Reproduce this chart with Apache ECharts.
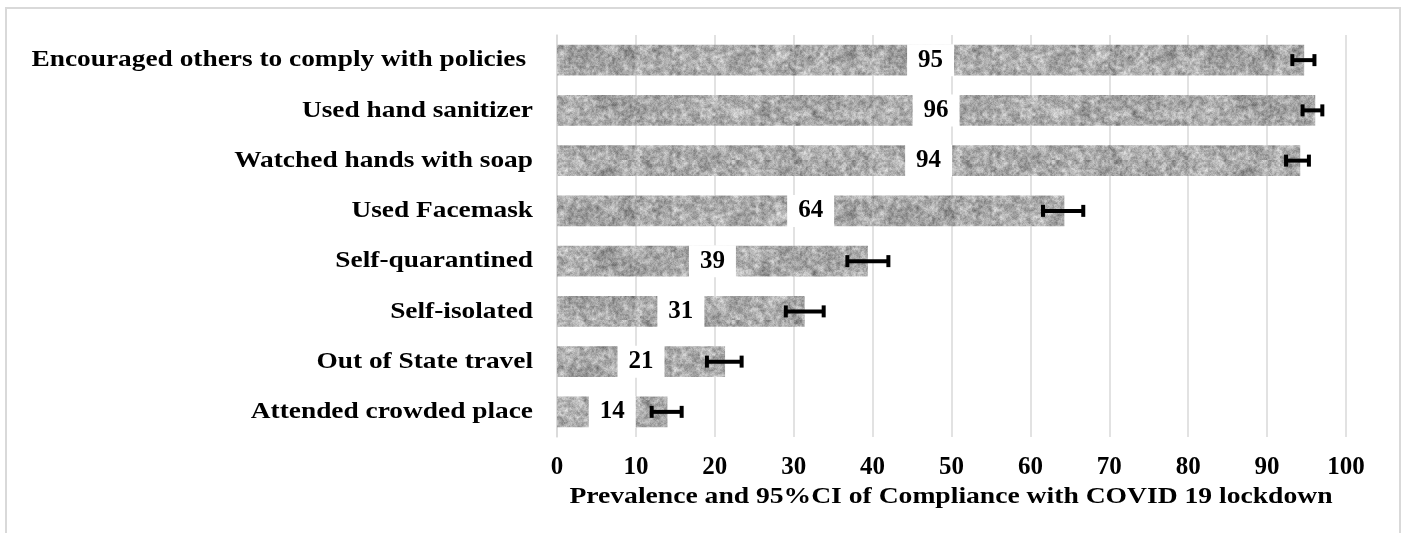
<!DOCTYPE html>
<html>
<head>
<meta charset="utf-8">
<script src="https://cdn.jsdelivr.net/npm/echarts@6/dist/echarts.min.js"></script>
<style>
html,body{margin:0;padding:0;background:#fff;}
#chart{width:1405px;height:533px;}
</style>
</head>
<body>
<div id="chart"></div>
<script>
const categories = [
  'Encouraged others to comply with policies ',
  'Used hand sanitizer',
  'Watched hands with soap',
  'Used Facemask',
  'Self-quarantined',
  'Self-isolated',
  'Out of State travel',
  'Attended crowded place'
];
const values = [94.7, 96.1, 94.2, 64.3, 39.4, 31.4, 21.3, 14.0];
const ciLow  = [93.2, 94.5, 92.4, 61.6, 36.8, 29.0, 19.0, 12.0];
const ciHigh = [96.0, 97.0, 95.3, 66.7, 42.0, 33.8, 23.4, 15.8];
const xTicks = [0, 10, 20, 30, 40, 50, 60, 70, 80, 90, 100];
const axisTitle = 'Prevalence and 95%CI of Compliance with COVID 19 lockdown';

// decorative granite-like texture (deterministic)
function makeTexture() {
  let seed = 987654;
  const rnd = () => { seed = (seed * 1103515245 + 12345) & 0x7fffffff; return seed / 0x7fffffff; };
  const W = 320, H = 80;
  const out = document.createElement('canvas');
  out.width = W; out.height = H;
  const ctx = out.getContext('2d');
  ctx.fillStyle = '#b0b0b0';
  ctx.fillRect(0, 0, W, H);
  const layers = [[8, 0.85], [4, 0.6], [2, 0.4], [1, 0.15]];
  layers.forEach(([s, a]) => {
    const w = Math.ceil(W / s) + 1, h = Math.ceil(H / s) + 1;
    const c = document.createElement('canvas');
    c.width = w; c.height = h;
    const cx = c.getContext('2d');
    const img = cx.createImageData(w, h);
    for (let i = 0; i < w * h; i++) {
      const r = rnd();
      const v = Math.round(70 + Math.pow(r, 0.8) * 185);
      img.data[i * 4] = v; img.data[i * 4 + 1] = v; img.data[i * 4 + 2] = v; img.data[i * 4 + 3] = 255;
    }
    cx.putImageData(img, 0, 0);
    ctx.globalAlpha = a;
    ctx.imageSmoothingEnabled = true;
    ctx.drawImage(c, 0, 0, w * s, h * s);
  });
  ctx.globalAlpha = 1;
  return out;
}
const texture = makeTexture();

const FONT = '"Liberation Serif", "Times New Roman", serif';
const chart = echarts.init(document.getElementById('chart'), null, {renderer: 'canvas'});

const errData = categories.map((c, i) => [i, ciLow[i], ciHigh[i]]);
const catData = categories.map((c, i) => [i]);

chart.setOption({
  animation: false,
  backgroundColor: '#fff',
  graphic: [
    {
      type: 'rect', z: -10, silent: true,
      shape: {x: 6, y: 8, width: 1394, height: 600},
      style: {fill: 'none', stroke: '#d9d9d9', lineWidth: 2}
    },
    {
      type: 'text', x: 951, y: 497, scaleX: 1.15, silent: true,
      style: {
        text: axisTitle, fill: '#000', textAlign: 'center', textVerticalAlign: 'middle',
        font: 'bold 24px ' + FONT
      }
    }
  ],
  grid: {left: 557, right: 59, top: 35, bottom: 96},
  xAxis: {
    type: 'value', min: 0, max: 100, interval: 10,
    axisLine: {show: false}, axisTick: {show: false},
    splitLine: {show: true, lineStyle: {color: '#d9d9d9', width: 1.5}},
    axisLabel: {
      margin: 18, color: '#000', fontFamily: FONT, fontWeight: 'bold', fontSize: 25,
      formatter: v => xTicks.includes(v) ? String(v) : ''
    }
  },
  yAxis: {
    type: 'category', data: categories, inverse: true,
    axisLine: {show: true, lineStyle: {color: '#d9d9d9', width: 1.5}},
    axisTick: {show: false},
    axisLabel: {show: false}
  },
  series: [
    {
      type: 'bar', data: values, barWidth: '61%',
      itemStyle: {color: {image: texture, repeat: 'repeat'}},
      label: {
        show: true, position: 'inside', color: '#000',
        fontFamily: FONT, fontWeight: 'bold', fontSize: 25,
        backgroundColor: '#fff', padding: [4, 11, 3, 11],
        formatter: p => String(Math.round(p.value))
      },
      z: 2
    },
    {
      type: 'custom', z: 5,
      data: errData,
      renderItem: (params, api) => {
        const y = api.value(0);
        const lo = api.coord([api.value(1), y]);
        const hi = api.coord([api.value(2), y]);
        const cap = 6;
        const st = {stroke: '#000', lineWidth: 4};
        return {
          type: 'group',
          children: [
            {type: 'line', shape: {x1: lo[0], y1: lo[1], x2: hi[0], y2: hi[1]}, style: st},
            {type: 'line', shape: {x1: lo[0], y1: lo[1] - cap, x2: lo[0], y2: lo[1] + cap}, style: st},
            {type: 'line', shape: {x1: hi[0], y1: hi[1] - cap, x2: hi[0], y2: hi[1] + cap}, style: st}
          ]
        };
      }
    },
    {
      type: 'custom', z: 6, silent: true,
      data: catData,
      renderItem: (params, api) => {
        const i = api.value(0);
        const p = api.coord([0, i]);
        return {
          type: 'text', x: p[0] - 24, y: p[1], scaleX: 1.14,
          style: {
            text: categories[i], fill: '#000', textAlign: 'right', textVerticalAlign: 'middle',
            font: 'bold 24px ' + FONT
          }
        };
      }
    }
  ]
});
</script>
</body>
</html>
